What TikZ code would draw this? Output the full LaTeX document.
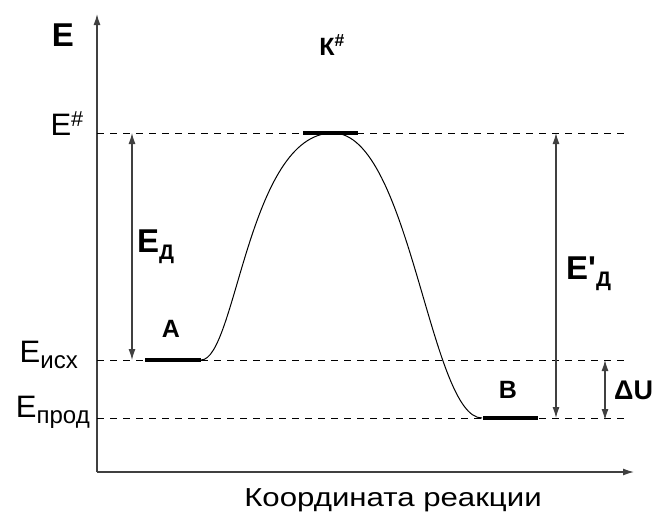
\documentclass[tikz,border=0pt]{standalone}
\usepackage{fontspec}
\setmainfont{Liberation Sans}
\usetikzlibrary{arrows.meta}
\begin{document}
\begin{tikzpicture}[x=1pt,y=-1pt,
  ax/.style={draw=black!75, line width=1.3pt, -{Latex[length=11pt,width=7pt]}},
  dim/.style={draw=black!75, line width=1.2pt, {Latex[length=11pt,width=7pt]}-{Latex[length=11pt,width=7pt]}},
  lvl/.style={draw=black, line width=0.9pt, dash pattern=on 7pt off 6pt},
  bar/.style={draw=black, line width=4pt},
  curve/.style={draw=black, line width=1pt},
  lab/.style={font=\fontsize{31}{33}\selectfont, inner sep=0pt},
  blab/.style={font=\fontsize{33}{35}\selectfont\bfseries, inner sep=0pt},
  slab/.style={font=\fontsize{25}{27}\selectfont\bfseries, inner sep=0pt},
  txt/.style={font=\fontsize{26}{28}\selectfont, inner sep=0pt, xscale=1.2}]
\useasboundingbox (0,0) rectangle (660,522);
% axes
\coordinate (O) at (97,472);
\coordinate (Ytop) at (97,14);
\coordinate (Xend) at (634,472);
\draw[ax] (O) -- (Ytop);
\draw[ax] (O) -- (Xend);
\node[blab] (E) at (63,35) {E};
\node[txt] (xl) at (393,500) {Координата реакции};
% levels
\coordinate (h1) at (97,133); \coordinate (h2) at (628,133);
\coordinate (i1) at (97,360); \coordinate (i2) at (624,360);
\coordinate (p1) at (97,418); \coordinate (p2) at (624,418);
\draw[lvl] (h1) -- (h2);
\draw[lvl] (i1) -- (i2);
\draw[lvl] (p1) -- (p2);
\node[lab, anchor=east] (Eh) at (84,124) {E\textsuperscript{\#}};
\node[lab, anchor=east] (Ei) at (78,355) {E\raisebox{-6pt}{\fontsize{24}{26}\selectfont исх}};
\node[lab, anchor=east] (Ep) at (90,412) {E\raisebox{-6pt}{\fontsize{24}{26}\selectfont прод}};
% bars
\coordinate (a1) at (145,360); \coordinate (a2) at (201,360);
\coordinate (k1) at (303,133); \coordinate (k2) at (358,133);
\coordinate (b1) at (483,418); \coordinate (b2) at (538,418);
\draw[bar] (a1) -- (a2);
\draw[bar] (k1) -- (k2);
\draw[bar] (b1) -- (b2);
\node[slab] (A) at (171,329) {A};
\node[slab] (K) at (332,45) {К\textsuperscript{\#}};
\node[slab] (B) at (508,390) {B};
% curve
\coordinate (top) at (333,133);
\draw[curve] (a2) .. controls (236,360) and (248,133) .. (top)
             .. controls (410,133) and (430,418) .. (482,418);
% dimension arrows
\coordinate (d1a) at (132,133); \coordinate (d1b) at (132,360);
\coordinate (d2a) at (556,133); \coordinate (d2b) at (556,418);
\coordinate (d3a) at (605,360); \coordinate (d3b) at (605,420);
\draw[dim] (d1a) -- (d1b);
\draw[dim] (d2a) -- (d2b);
\draw[dim] (d3a) -- (d3b);
\node[blab, anchor=west] (EA) at (137,247) {E\raisebox{-7pt}{\fontsize{21}{23}\selectfont Д}};
\node[blab, anchor=west] (EA2) at (566,274) {E\textquotesingle\raisebox{-7pt}{\fontsize{21}{23}\selectfont Д}};
\node[slab, anchor=west, font=\fontsize{27}{29}\selectfont\bfseries] (dU) at (614,390) {ΔU};
\end{tikzpicture}
\end{document}
